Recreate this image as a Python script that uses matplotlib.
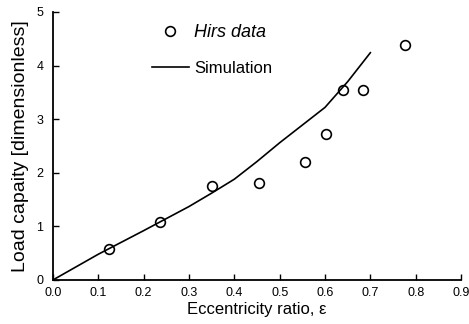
import numpy as np
import matplotlib.pyplot as plt

# Hirs experimental data
hirs_ecc = [0.124, 0.236, 0.351, 0.455, 0.556, 0.603, 0.640, 0.684, 0.777]
hirs_load = [0.57, 1.09, 1.75, 1.81, 2.21, 2.73, 3.55, 3.55, 4.39]

# simulation curve
sim_ecc = [0.0, 0.1, 0.2, 0.3, 0.35, 0.4, 0.45, 0.5, 0.6, 0.65, 0.7]
sim_load = [0.0, 0.48, 0.92, 1.37, 1.62, 1.88, 2.21, 2.56, 3.22, 3.70, 4.24]

xticks = [0.0, 0.1, 0.2, 0.3, 0.4, 0.5, 0.6, 0.7, 0.8, 0.9]
yticks = [0, 1, 2, 3, 4, 5]

plt.rcParams['font.family'] = ['Liberation Sans', 'DejaVu Sans']

fig = plt.figure(figsize=(4.69, 3.24), dpi=100)
ax = fig.add_axes([0.113, 0.136, 0.870, 0.827])

ax.plot(hirs_ecc, hirs_load, 'o', mfc='none', mec='black', ms=7, mew=1.2,
        label='Hirs data', zorder=3)
ax.plot(sim_ecc, sim_load, '-', color='black', lw=1.2, label='Simulation')

ax.set_xlim(0, 0.9)
ax.set_ylim(0, 5)
ax.set_xticks(xticks)
ax.set_xticklabels(['%.1f' % v for v in xticks])
ax.set_yticks(yticks)
ax.tick_params(direction='in', length=4, width=1, labelsize=9)
ax.tick_params(axis='x', pad=5)
ax.tick_params(axis='y', pad=7)
for s in ['top', 'right']:
    ax.spines[s].set_visible(False)
for s in ['left', 'bottom']:
    ax.spines[s].set_linewidth(1.3)

ax.set_xlabel('Eccentricity ratio, \u03b5', fontsize=12, labelpad=2)
ax.set_ylabel('Load capaity [dimensionless]', fontsize=14, labelpad=5)

leg = ax.legend(loc='upper left', bbox_to_anchor=(0.243, 0.955), frameon=False,
                fontsize=12, handlelength=2.2, handletextpad=0.3,
                labelspacing=1.2, borderpad=0, borderaxespad=0)
leg.get_texts()[0].set_style('italic')
leg.get_texts()[0].set_fontsize(13)

fig.savefig('out.png', dpi=100)
